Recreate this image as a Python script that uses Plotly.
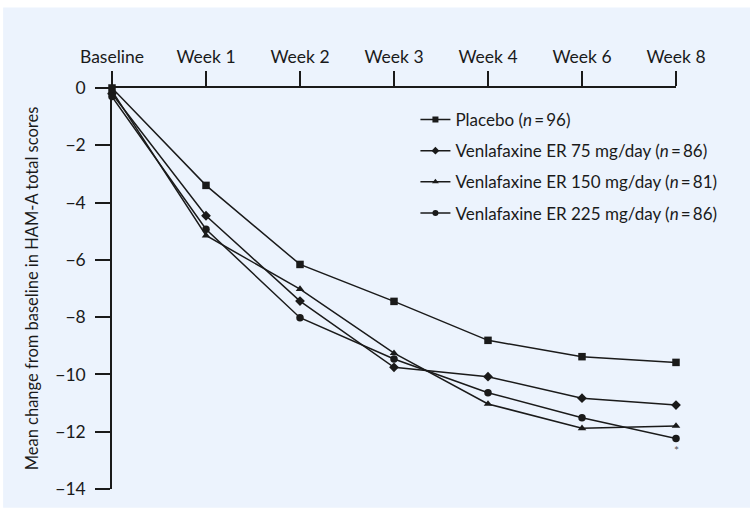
import plotly.graph_objects as go

# Visit labels along the top axis
visits = ["Baseline", "Week 1", "Week 2", "Week 3", "Week 4", "Week 6", "Week 8"]

# Mean change from baseline in HAM-A total score, per treatment arm
placebo = [0.0, -3.40, -6.16, -7.45, -8.81, -9.38, -9.58]
vfx_75 = [-0.2, -4.46, -7.44, -9.75, -10.08, -10.83, -11.07]
vfx_150 = [-0.1, -5.15, -7.02, -9.26, -11.03, -11.88, -11.80]
vfx_225 = [-0.3, -4.93, -8.02, -9.46, -10.64, -11.51, -12.24]

y_ticks = [0, -2, -4, -6, -8, -10, -12, -14]

eq = "\u2009=\u2009"
series = [
    (f"Placebo (<i>n</i>{eq}96)", placebo, "square", 7.5, 6),
    (f"Venlafaxine ER 75 mg/day (<i>n</i>{eq}86)", vfx_75, "diamond", 7.5, 6),
    (f"Venlafaxine ER 150 mg/day (<i>n</i>{eq}81)", vfx_150, "triangle-up", 7.5, 6),
    (f"Venlafaxine ER 225 mg/day (<i>n</i>{eq}86)", vfx_225, "circle", 7.5, 6),
]

ink = "#1a1a1a"
panel = "#ECF3FD"
xs = list(range(len(visits)))

fig = go.Figure()
for i, (name, vals, sym, size, key_size) in enumerate(series):
    fig.add_trace(go.Scatter(
        x=xs, y=vals, name=name, mode="lines+markers",
        line=dict(color=ink, width=1.5),
        marker=dict(symbol=sym, size=size, color=ink),
        cliponaxis=False, showlegend=False,
    ))
    # legend key with a smaller marker
    fig.add_trace(go.Scatter(
        x=[None], y=[None], name=name, mode="lines+markers",
        line=dict(color=ink, width=1.5),
        marker=dict(symbol=sym, size=key_size, color=ink),
        legendgroup=f"g{i}", hoverinfo="skip",
    ))

# Significance mark under the highest-dose arm at week 8
fig.add_annotation(x=xs[-1], y=vfx_225[-1], text="*", showarrow=False,
                   yshift=-12, font=dict(size=12, color="#555555"))

fig.update_layout(
    width=750, height=512,
    margin=dict(l=112, r=74, t=88, b=23),
    paper_bgcolor="white",
    plot_bgcolor="rgba(0,0,0,0)",
    font=dict(family="Lato", size=17, color=ink),
    showlegend=True,
    legend=dict(x=0.538, y=0.965, xanchor="left", yanchor="top",
                bgcolor="rgba(0,0,0,0)", font=dict(size=17),
                tracegroupgap=6, itemwidth=30),
    shapes=[dict(type="rect", xref="paper", yref="paper",
                 x0=-0.193, x1=1.14, y0=-0.047, y1=1.201,
                 fillcolor=panel, line=dict(width=0), layer="below")],
)

fig.update_xaxes(
    range=[0, 6], tickmode="array", tickvals=xs, ticktext=visits,
    side="top", ticks="outside", ticklen=15, tickwidth=1.5, tickcolor=ink,
    showline=True, linecolor=ink, linewidth=1.5, showgrid=False, zeroline=False,
    tickfont=dict(size=17.5), ticklabelstandoff=1,
)
fig.update_yaxes(
    range=[-14, 0], tickmode="array", tickvals=y_ticks,
    ticks="outside", ticklen=15, tickwidth=1.5, tickcolor=ink,
    showline=True, linecolor=ink, linewidth=1.5, showgrid=False, zeroline=False,
    tickfont=dict(size=17.5), ticklabelstandoff=6,
    title=dict(text="Mean change from baseline in HAM-A total scores",
               font=dict(size=16.5), standoff=13),
)

fig.write_html("out.html")
